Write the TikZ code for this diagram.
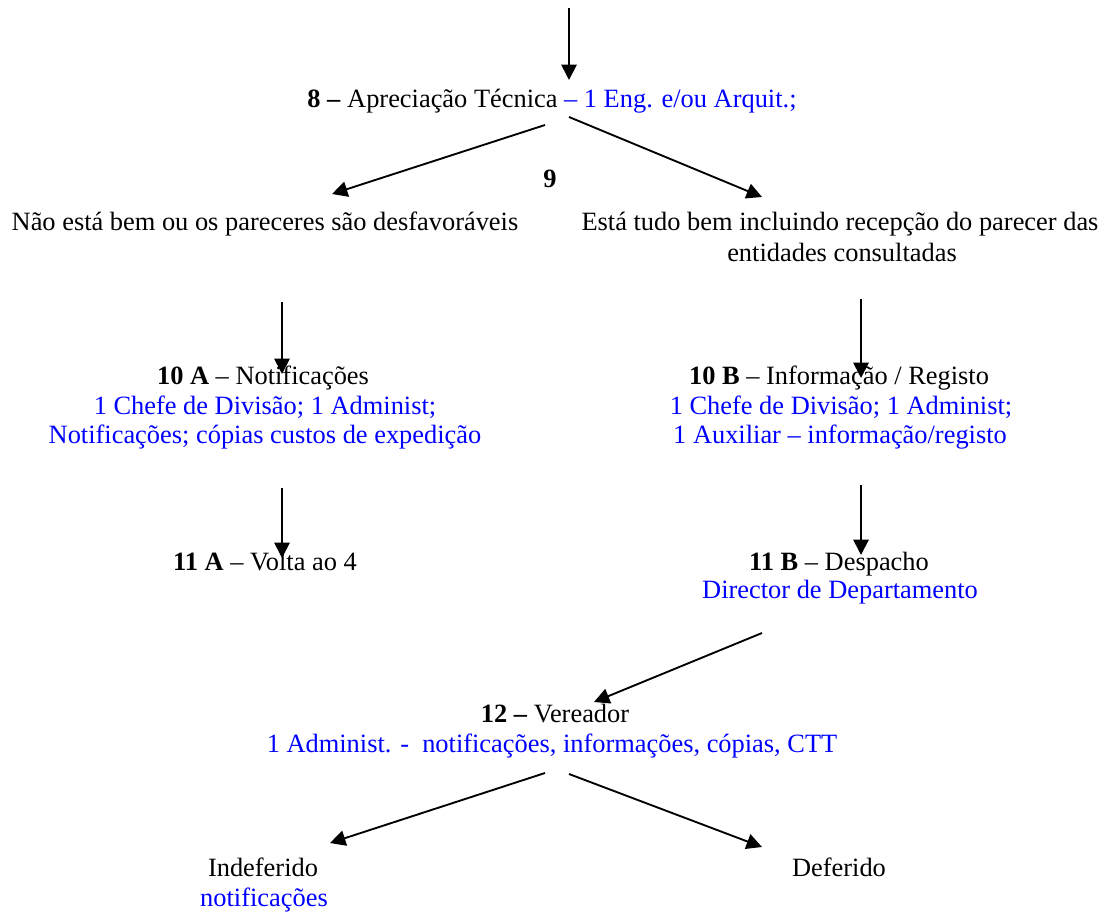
\documentclass[tikz,border=0pt]{standalone}
\usepackage{fontspec}
\setmainfont{Liberation Serif}
\usetikzlibrary{arrows.meta}
\definecolor{txtblue}{RGB}{0,0,255}
\begin{document}
\begin{tikzpicture}[x=0.4545pt,y=-0.4545pt,
  lbl/.style={anchor=base,inner sep=0pt,font=\fontsize{12pt}{13.8pt}\selectfont},
  blu/.style={lbl,text=txtblue},
  arr/.style={line width=0.85pt,-{Triangle[length=7pt,width=7pt]}}]
\useasboundingbox (0,0) rectangle (1105,912);
% texts
\node[lbl] (n8) at (552,108) {\textbf{8 –} Apreciação Técnica {\color{txtblue}– 1 Eng. e/ou Arquit.;}};
\node[lbl] (n9) at (550,188) {\textbf{9}};
\node[lbl] (nao) at (265,231) {Não está bem ou os pareceres são desfavoráveis};
\node[lbl] (esta) at (840,231) {Está tudo bem incluindo recepção do parecer das};
\node[lbl] (esta2) at (842,262) {entidades consultadas};
\node[lbl] (a10) at (263,385) {\textbf{10 A} – Notificações};
\node[blu] (a10b) at (265,414) {1 Chefe de Divisão; 1 Administ;};
\node[blu] (a10c) at (265,443) {Notificações; cópias custos de expedição};
\node[lbl] (b10) at (839,385) {\textbf{10 B} – Informação / Registo};
\node[blu] (b10b) at (841,414) {1 Chefe de Divisão; 1 Administ;};
\node[blu] (b10c) at (840,443) {1 Auxiliar – informação/registo};
\node[lbl] (a11) at (265,570) {\textbf{11 A} – Volta ao 4};
\node[lbl] (b11) at (839,570) {\textbf{11 B} – Despacho};
\node[blu] (b11b) at (840,598) {Director de Departamento};
\node[lbl] (n12) at (555,722) {\textbf{12 –} Vereador};
\node[blu] (n12b) at (552,752) {1 Administ. -\ \ notificações, informações, cópias, CTT};
\node[lbl] (ind) at (263,876) {Indeferido};
\node[blu] (ind2) at (264,906) {notificações};
\node[lbl] (def) at (839,876) {Deferido};
% connector ends
\coordinate (top) at (569,8);
\coordinate (t8) at (569,80);
\coordinate (s8l) at (545,125);
\coordinate (s8r) at (569,117);
\coordinate (tnao) at (332,194);
\coordinate (testa) at (762,197);
\coordinate (snao) at (282,302);
\coordinate (t10a) at (282,374);
\coordinate (sesta) at (861,299);
\coordinate (t10b) at (861,378);
\coordinate (s10a) at (282,488);
\coordinate (t11a) at (282,558);
\coordinate (s10b) at (861,485);
\coordinate (t11b) at (861,555);
\coordinate (s11b) at (762,633);
\coordinate (t12) at (594,702);
\coordinate (s12l) at (545,773);
\coordinate (tind) at (330,843);
\coordinate (s12r) at (569,774);
\coordinate (tdef) at (762,847);
% connectors
\draw[arr] (top) -- (t8);
\draw[arr] (s8l) -- (tnao);
\draw[arr] (s8r) -- (testa);
\draw[arr] (snao) -- (t10a);
\draw[arr] (sesta) -- (t10b);
\draw[arr] (s10a) -- (t11a);
\draw[arr] (s10b) -- (t11b);
\draw[arr] (s11b) -- (t12);
\draw[arr] (s12l) -- (tind);
\draw[arr] (s12r) -- (tdef);
\end{tikzpicture}
\end{document}
